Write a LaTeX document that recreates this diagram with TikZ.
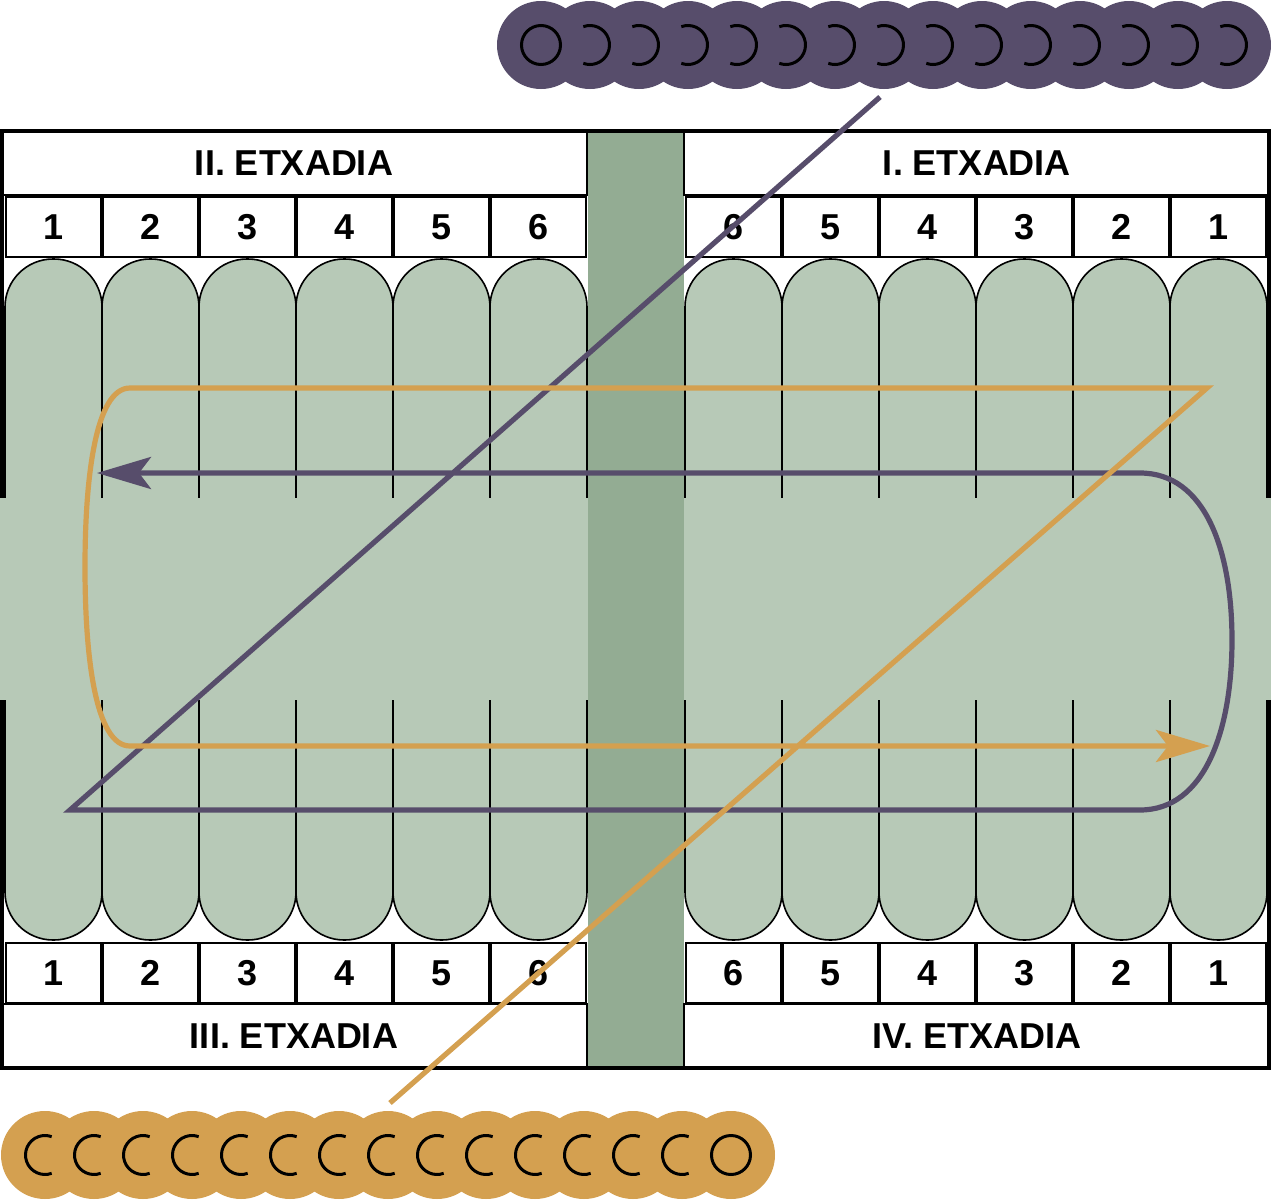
\documentclass[tikz,border=0pt]{standalone}
\usepackage{fontspec}
\setmainfont{Liberation Sans}
\usetikzlibrary{arrows.meta}

\definecolor{viola}{HTML}{574D6B}
\definecolor{ocra}{HTML}{D4A050}
\definecolor{verdechiaro}{HTML}{B7C9B7}
\definecolor{verdescuro}{HTML}{93AC93}

\tikzset{
	dente/.style={fill=verdechiaro, draw=black, line width=0.8pt, rounded corners=24pt},
	cella/.style={draw=black, fill=white, line width=1pt, minimum width=47.5pt, minimum height=30pt, inner sep=0pt, font=\bfseries\fontsize{18}{18}\selectfont},
	fascia/.style={draw=black, fill=white, line width=1pt, minimum width=293pt, minimum height=32pt, inner sep=0pt, font=\bfseries\fontsize{18}{18}\selectfont},
	bordo/.style={line width=1.8pt},
	segno/.style={line width=1.5pt},
	filo/.style={line width=2.6pt},
	punta/.style={-{Stealth[length=27pt, width=16pt, inset=6pt]}},
}

\begin{document}
\begin{tikzpicture}[x=0.5pt, y=-0.5pt]
			\fill[white] (0, 0) rectangle (1271, 1200);
			\useasboundingbox (0, 0) rectangle (1271, 1200);
			% denti
			\foreach \x in {5, 102, ..., 490} \draw[dente] (\x, 259) rectangle ++(97, 681);
			\foreach \x in {685, 782, ..., 1170} \draw[dente] (\x, 259) rectangle ++(97, 681);
			% fascia centrale
			\fill[verdechiaro] (0, 498) rectangle (1271, 700);
			\fill[verdescuro] (588, 131) rectangle (684, 1068);
			% etxadiak
			\node[fascia] (tit2) at (294, 163) {II. ETXADIA};
			\node[fascia] (tit1) at (977, 163) {I. ETXADIA};
			\node[fascia] (tit3) at (294, 1036) {III. ETXADIA};
			\node[fascia] (tit4) at (977, 1036) {IV. ETXADIA};
			% numeri
			\foreach \n [count=\i] in {1, ..., 6} \node[cella] (sa\i) at ({53.5 + 97*(\i - 1)}, 227) {\n};
			\foreach \n [count=\i] in {6, 5, ..., 1} \node[cella] (sb\i) at ({733.5 + 97*(\i - 1)}, 227) {\n};
			\foreach \n [count=\i] in {1, ..., 6} \node[cella] (ia\i) at ({53.5 + 97*(\i - 1)}, 973) {\n};
			\foreach \n [count=\i] in {6, 5, ..., 1} \node[cella] (ib\i) at ({733.5 + 97*(\i - 1)}, 973) {\n};
			% bordo
			\draw[bordo] (0, 131) -- (1271, 131);
			\draw[bordo] (0, 1068) -- (1271, 1068);
			\draw[bordo] (2, 131) -- (2, 498);
			\draw[bordo] (2, 700) -- (2, 1068);
			\draw[bordo] (1269, 131) -- (1269, 498);
			\draw[bordo] (1269, 700) -- (1269, 1068);
			% catena viola
			\foreach \i in {0, ..., 14} \fill[viola] ({541 + 49*\i}, 45) circle [radius=44];
			\draw[segno] (541, 45) circle [radius=19.5];
			\foreach \i in {1, ..., 14} \draw[segno] ({541 + 49*\i}, 45) ++(-110:19.5) arc [start angle=-110, end angle=110, radius=19.5];
			% catena ocra
			\foreach \i in {0, ..., 14} \fill[ocra] ({45 + 49*\i}, 1155) circle [radius=44];
			\foreach \i in {0, ..., 13} \draw[segno] ({45 + 49*\i}, 1155) ++(70:19.5) arc [start angle=70, end angle=290, radius=19.5];
			\draw[segno] (731, 1155) circle [radius=19.5];
			% percorso viola
			\coordinate (va) at (880, 97);
			\coordinate (vb) at (70, 810);
			\coordinate (vc) at (1140, 810);
			\coordinate (vd) at (1232, 640);
			\coordinate (ve) at (1140, 473);
			\coordinate (vf) at (97, 473);
			\draw[filo, viola, punta] (va) -- (vb) -- (vc) .. controls (1205, 810) and (1232, 730) .. (vd) .. controls (1232, 550) and (1205, 473) .. (ve) -- (vf);
			% percorso ocra
			\coordinate (oa) at (390, 1103);
			\coordinate (ob) at (1207, 388);
			\coordinate (oc) at (130, 388);
			\coordinate (od) at (85, 567);
			\coordinate (oe) at (130, 746);
			\coordinate (of) at (1210, 746);
			\draw[filo, ocra, punta] (oa) -- (ob) -- (oc) .. controls (95, 388) and (85, 480) .. (od) .. controls (85, 655) and (95, 746) .. (oe) -- (of);
		\end{tikzpicture}
\end{document}
